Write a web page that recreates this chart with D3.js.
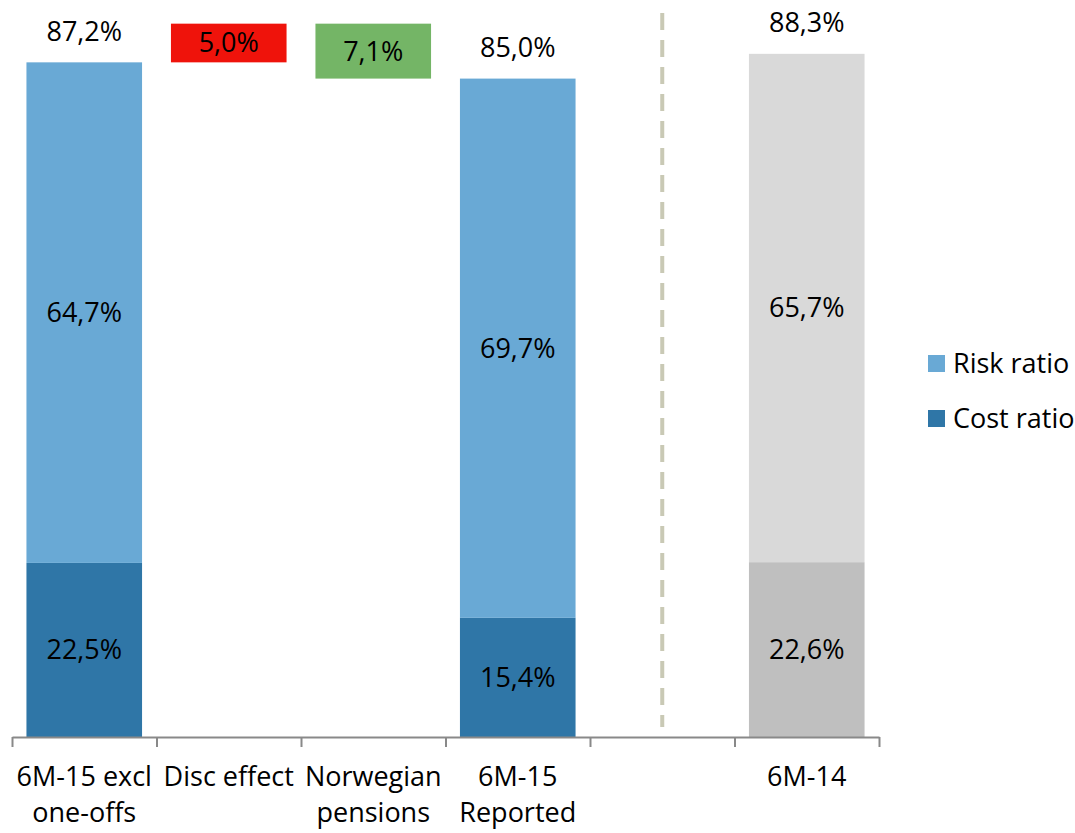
<!DOCTYPE html>
<html>
<head>
<meta charset="utf-8">
<script src="https://cdn.jsdelivr.net/npm/d3@7"></script>
<style>
  body { margin: 0; background: #fff; }
  text { font-family: "Open Sans", "Noto Sans", sans-serif; fill: #000; }
</style>
</head>
<body>
<div id="chart"></div>
<script>
// categories (slot 5 is the empty gap with the dashed divider)
const categories = ["6M-15 excl\none-offs", "Disc effect", "Norwegian\npensions", "6M-15\nReported", "", "6M-14"];
const costRatio = [22.5, null, null, 15.4, null, 22.6];
const riskRatio = [64.7, null, null, 69.7, null, 65.7];
const totalLabels = ["87,2%", null, null, "85,0%", null, "88,3%"];
// waterfall steps: [from, to, label]
const steps = [null, [87.2, 92.2, "5,0%"], [92.2, 85.1, "7,1%"], null, null, null];
const stepColors = [null, "#EF130B", "#74B566", null, null, null];

const W = 1075, H = 833;
const svg = d3.select("#chart").append("svg").attr("width", W).attr("height", H);

const x = d3.scaleBand().domain(d3.range(categories.length)).range([12, 879]).paddingInner(0.2).paddingOuter(0.1);
const y = d3.scaleLinear().domain([0, 95]).range([737, 2]);

const colRisk = i => i === 5 ? "#D9D9D9" : "#69A9D5";
const colCost = i => i === 5 ? "#BFBFBF" : "#2F76A7";

const fmt = v => v.toFixed(1).replace(".", ",") + "%";
const fs = 27;

// stacked bars
categories.forEach((c, i) => {
    if (costRatio[i] == null) return;
    const c0 = costRatio[i], r0 = riskRatio[i];
    svg.append("rect").attr("x", x(i)).attr("width", x.bandwidth())
        .attr("y", y(c0)).attr("height", y(0) - y(c0)).attr("fill", colCost(i));
    svg.append("rect").attr("x", x(i)).attr("width", x.bandwidth())
        .attr("y", y(c0 + r0)).attr("height", y(c0) - y(c0 + r0)).attr("fill", colRisk(i));
    svg.append("text").attr("x", x(i) + x.bandwidth() / 2).attr("y", y(c0 / 2))
        .attr("text-anchor", "middle").attr("dy", "0.35em").style("font-size", fs + "px").text(fmt(c0));
    svg.append("text").attr("x", x(i) + x.bandwidth() / 2).attr("y", y(c0 + r0 / 2))
        .attr("text-anchor", "middle").attr("dy", "0.35em").style("font-size", fs + "px").text(fmt(r0));
    svg.append("text").attr("x", x(i) + x.bandwidth() / 2).attr("y", y(c0 + r0) - 31)
        .attr("text-anchor", "middle").attr("dy", "0.35em").style("font-size", fs + "px").text(totalLabels[i]);
});

// waterfall step boxes
steps.forEach((s, i) => {
    if (!s) return;
    const top = Math.max(s[0], s[1]), bot = Math.min(s[0], s[1]);
    svg.append("rect").attr("x", x(i)).attr("width", x.bandwidth())
        .attr("y", y(top)).attr("height", y(bot) - y(top)).attr("fill", stepColors[i]);
    svg.append("text").attr("x", x(i) + x.bandwidth() / 2).attr("y", y((top + bot) / 2))
        .attr("text-anchor", "middle").attr("dy", "0.35em").style("font-size", fs + "px").text(s[2]);
});

// dashed divider in the empty slot
svg.append("line")
    .attr("x1", x(4) + x.bandwidth() / 2).attr("x2", x(4) + x.bandwidth() / 2)
    .attr("y1", 13).attr("y2", 727)
    .attr("stroke", "#C9C9B5").attr("stroke-width", 4).attr("stroke-dasharray", "17,10");

// axis: line with ticks at slot boundaries
const xb = d3.scaleLinear().domain([0, categories.length]).range([12, 879]);
const axis = svg.append("g").attr("transform", "translate(0,737)")
    .call(d3.axisBottom(xb).tickValues(d3.range(categories.length + 1)).tickSize(10).tickSizeOuter(0).tickFormat(""));
axis.select(".domain").attr("stroke", "#898989").attr("stroke-width", 2);
axis.selectAll(".tick line").attr("stroke", "#898989").attr("stroke-width", 2);

// category labels
categories.forEach((c, i) => {
    const t = svg.append("text").attr("x", x(i) + x.bandwidth() / 2).attr("y", 786)
        .attr("text-anchor", "middle").style("font-size", fs + "px");
    c.split("\n").forEach((line, k) => {
        t.append("tspan").attr("x", x(i) + x.bandwidth() / 2).attr("dy", k === 0 ? 0 : 36).text(line);
    });
});

// legend
const legend = [["Risk ratio", "#69A9D5"], ["Cost ratio", "#2F76A7"]];
legend.forEach((d, k) => {
    const ly = 364 + k * 55;
    svg.append("rect").attr("x", 928).attr("y", ly - 9).attr("width", 17).attr("height", 17).attr("fill", d[1]);
    svg.append("text").attr("x", 953).attr("y", ly).attr("dy", "0.35em").style("font-size", fs + "px").text(d[0]);
});
</script>
</body>
</html>
